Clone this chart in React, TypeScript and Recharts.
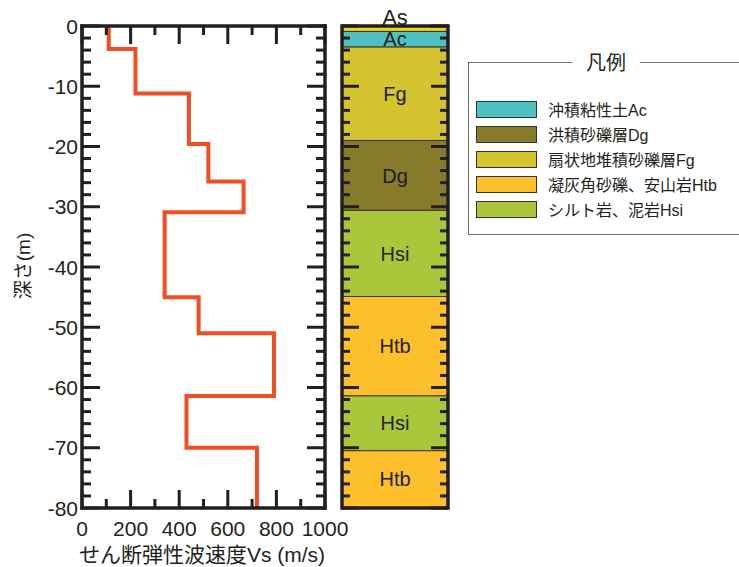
import React from 'react';
import { LineChart, Line, XAxis, YAxis, BarChart, Bar, ReferenceLine, LabelList } from 'recharts';

// Vs profile: velocity of each step and the depth (m) where it ends
const vsValues = [110, 220, 440, 520, 665, 340, 480, 790, 430, 720];
const vsBottoms = [3.8, 11.2, 19.6, 25.8, 30.9, 45, 51, 61.4, 70, 80];

// soil column
const layerNames = ['As', 'Ac', 'Fg', 'Dg', 'Hsi', 'Htb', 'Hsi', 'Htb'];
const layerBottoms = [0.9, 3.5, 19, 30.6, 44.9, 61.4, 70.5, 80];
const layerColors = ['#F3D41C', '#4EC1C2', '#D5C42F', '#867A2B', '#AAC73C', '#FDC02A', '#AAC73C', '#FDC02A'];

const legendLabels = ['沖積粘性土Ac', '洪積砂礫層Dg', '扇状地堆積砂礫層Fg', '凝灰角砂礫、安山岩Htb', 'シルト岩、泥岩Hsi'];
const legendColors = ['#4EC1C2', '#867A2B', '#D5C42F', '#FDC02A', '#AAC73C'];

const vsTicks = [0, 100, 200, 300, 400, 500, 600, 700, 800, 900, 1000];
const depthTicks = Array.from({ length: 41 }, (_, i) => -80 + i * 2);

const INK = '#231F20';
const FONT = '"Liberation Sans", "Noto Sans CJK JP", sans-serif';

const profile: { vs: number; depth: number }[] = [];
vsValues.forEach((v, i) => {
  const top = i === 0 ? 0 : vsBottoms[i - 1];
  profile.push({ vs: v, depth: -top });
  profile.push({ vs: v, depth: -vsBottoms[i] });
});

const columnRow: Record<string, number | string> = { name: 'col' };
layerBottoms.forEach((b, i) => {
  const top = i === 0 ? 0 : layerBottoms[i - 1];
  columnRow[`l${i}`] = -(b - top);
  columnRow[`n${i}`] = layerNames[i];
});

// ticks drawn inward from the frame, label only on major ones
function makeTick(side: 'left' | 'right' | 'top' | 'bottom', majorLen: number, minorLen: number, labels: boolean, majorStep: number) {
  return (props: any) => {
    const { x, y, payload } = props;
    const v = payload.value;
    const major = v % majorStep === 0;
    const len = major ? majorLen : minorLen;
    let x2 = x, y2 = y;
    if (side === 'left') x2 = x + len;
    if (side === 'right') x2 = x - len;
    if (side === 'bottom') y2 = y - len;
    if (side === 'top') y2 = y + len;
    return (
      <g>
        <line x1={x} y1={y} x2={x2} y2={y2} stroke={INK} strokeWidth={3} />
        {labels && major && side === 'left' && (
          <text x={x - 4} y={y} textAnchor="end" dominantBaseline="central" fontSize={21} fill={INK} fontFamily={FONT}>{v}</text>
        )}
        {labels && major && side === 'bottom' && (
          <text x={x} y={y + 20} textAnchor="middle" dominantBaseline="central" fontSize={21} fill={INK} fontFamily={FONT}>{v}</text>
        )}
      </g>
    );
  };
}

const axisLine = { stroke: INK, strokeWidth: 3.5, strokeLinecap: 'square' as const };

function VsChart() {
  return (
    <LineChart width={460} height={567} data={profile} margin={{ top: 25, left: 22, right: 134, bottom: 29 }}>
      <XAxis xAxisId="b" dataKey="vs" type="number" domain={[0, 1000]} allowDataOverflow ticks={vsTicks} interval={0}
        height={30} tickSize={0} tickMargin={0} tickLine={false} axisLine={axisLine} tick={makeTick('bottom', 18, 9, true, 200)} />
      <XAxis xAxisId="t" orientation="top" dataKey="vs" type="number" domain={[0, 1000]} allowDataOverflow ticks={vsTicks} interval={0}
        height={1} tickSize={0} tickMargin={0} tickLine={false} axisLine={axisLine} tick={makeTick('top', 18, 9, false, 200)} />
      <YAxis yAxisId="l" type="number" domain={[-80, 0]} allowDataOverflow ticks={depthTicks} interval={0}
        width={60} tickSize={0} tickMargin={0} tickLine={false} axisLine={axisLine} tick={makeTick('left', 18, 9, true, 10)} />
      <YAxis yAxisId="r" orientation="right" type="number" domain={[-80, 0]} allowDataOverflow ticks={depthTicks} interval={0}
        width={1} tickSize={0} tickMargin={0} tickLine={false} axisLine={axisLine} tick={makeTick('right', 18, 9, false, 10)} />
      <Line xAxisId="t" yAxisId="r" dataKey="depth" stroke="none" dot={false} isAnimationActive={false} />
      <Line xAxisId="b" yAxisId="l" dataKey="depth" type="linear" stroke="#F04E23" strokeWidth={4} dot={false} isAnimationActive={false} />
    </LineChart>
  );
}

function ColumnChart() {
  return (
    <BarChart width={130} height={567} data={[columnRow]} stackOffset="sign" barCategoryGap={0} barGap={0}
      margin={{ top: 26, left: 11, right: 11, bottom: 59 }}>
      <XAxis dataKey="name" hide />
      <YAxis yAxisId="l" type="number" domain={[-80, 0]} allowDataOverflow ticks={depthTicks} interval={0}
        width={1} tickSize={0} tickMargin={0} tickLine={false} axisLine={axisLine} tick={makeTick('left', 17, 8, false, 10)} />
      <YAxis yAxisId="r" orientation="right" type="number" domain={[-80, 0]} allowDataOverflow ticks={depthTicks} interval={0}
        width={1} tickSize={0} tickMargin={0} tickLine={false} axisLine={axisLine} tick={makeTick('right', 17, 8, false, 10)} />
      {layerNames.map((n, i) => (
        <Bar key={i} yAxisId="l" dataKey={`l${i}`} stackId="s" fill={layerColors[i]} stroke="#3A3520" strokeWidth={1} isAnimationActive={false}>
          <LabelList dataKey={`n${i}`} position={i === 0 ? 'bottom' : 'center'} offset={i === 0 ? 1 : 0}
            fill={INK} fontSize={i === 0 ? 22 : 20} fontFamily={FONT} />
        </Bar>
      ))}
      <ReferenceLine yAxisId="l" y={0} stroke={INK} strokeWidth={3.5} />
      <ReferenceLine yAxisId="l" y={-80} stroke={INK} strokeWidth={3.5} />
    </BarChart>
  );
}

export default function App() {
  return (
    <div style={{ position: 'absolute', left: 0, top: 0, width: 739, height: 567, overflow: 'hidden', background: '#fff', fontFamily: FONT }}>
      <div style={{ position: 'absolute', left: 0, top: 0 }}>
        <VsChart />
      </div>
      <div style={{ position: 'absolute', left: 330, top: 0 }}>
        <ColumnChart />
      </div>

      {/* axis titles */}
      <div style={{ position: 'absolute', left: 202, top: 553, transform: 'translate(-50%, -50%)', fontSize: 21, color: INK, whiteSpace: 'nowrap' }}>
        せん断弾性波速度Vs (m/s)
      </div>
      <div style={{ position: 'absolute', left: 21, top: 266, transform: 'translate(-50%, -50%) rotate(-90deg)', fontSize: 19, color: INK, whiteSpace: 'nowrap' }}>
        深さ(m)
      </div>

      {/* legend */}
      <div style={{ position: 'absolute', left: 468, top: 62, width: 300, height: 173, border: '1px solid #6d6d6d', boxSizing: 'border-box' }}>
        <div style={{ position: 'absolute', left: 137, top: -12, transform: 'translateX(-50%)', background: '#fff', padding: '0 14px', fontSize: 20, lineHeight: '24px', color: INK, whiteSpace: 'nowrap' }}>
          凡例
        </div>
        {legendLabels.map((t, i) => (
          <div key={i} style={{ position: 'absolute', left: 7, top: 37 + i * 25, display: 'flex', alignItems: 'center', height: 18 }}>
            <div style={{ width: 61, height: 17, background: legendColors[i], border: '1px solid #333', boxSizing: 'border-box' }} />
            <div style={{ marginLeft: 11, fontSize: 16, color: INK, whiteSpace: 'nowrap' }}>{t}</div>
          </div>
        ))}
      </div>
    </div>
  );
}
